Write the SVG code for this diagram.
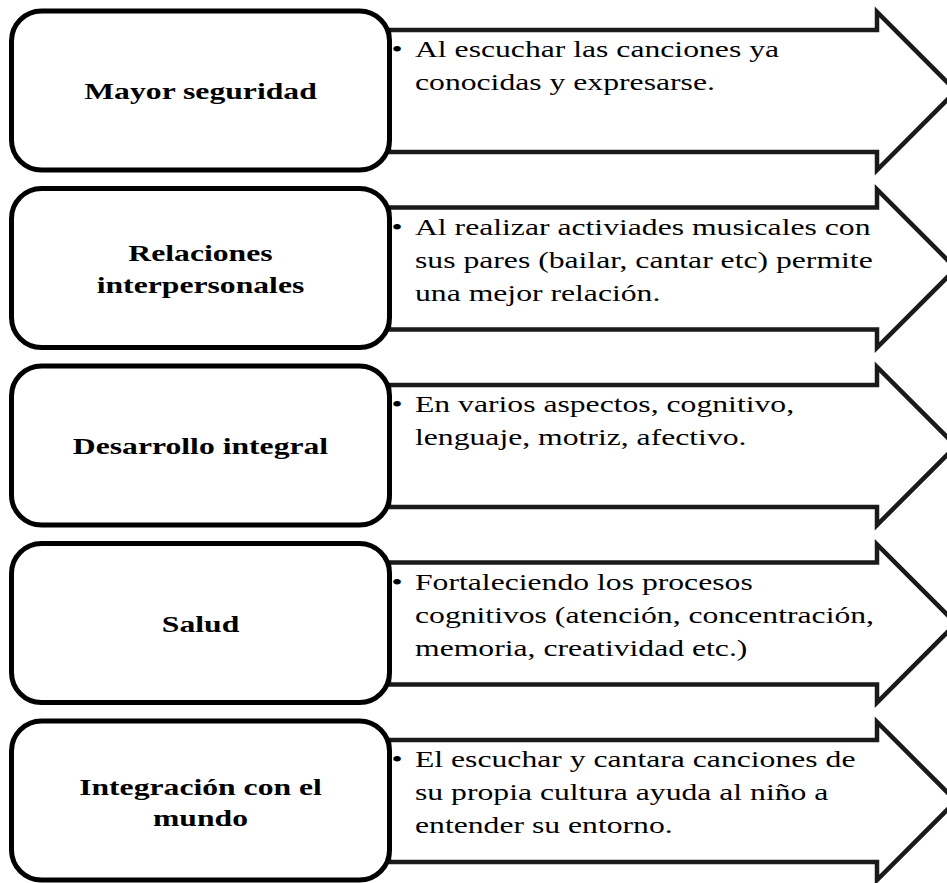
<svg xmlns="http://www.w3.org/2000/svg" width="947" height="883" viewBox="0 0 947 883">
<defs>
<style>
.arrow{fill:#fff;stroke:#1a1a1a;stroke-width:4.5;stroke-linejoin:miter;stroke-miterlimit:10}
.box{fill:#fff;stroke:#000;stroke-width:5}
.lbl{font-family:"Liberation Serif","Times New Roman",serif;font-size:24px;font-weight:bold;fill:#000;text-anchor:middle}
.txt{font-family:"Liberation Serif","Times New Roman",serif;font-size:24px;fill:#000}
.bul{font-family:"Liberation Serif","Times New Roman",serif;font-size:24px;fill:#000;text-anchor:middle}
</style>
<polygon id="arr" points="389,30 877,30 877,12 956,91 877,170 877,152 389,152"/>
</defs>
<g id="connectors">
<use href="#arr" class="arrow" transform="translate(0,0)"/>
<use href="#arr" class="arrow" transform="translate(0,177.5)"/>
<use href="#arr" class="arrow" transform="translate(0,355)"/>
<use href="#arr" class="arrow" transform="translate(0,532.5)"/>
<use href="#arr" class="arrow" transform="translate(0,710)"/>
</g>
<g id="node1">
<rect class="box" x="11.5" y="11" width="378" height="159" rx="30"/>
<text class="lbl" transform="translate(200.5 0) scale(1.32 1)" x="0" y="99.5">Mayor seguridad</text>
<text class="bul" transform="translate(397 0) scale(1.32 1)" x="0" y="57.5">•</text>
<text class="txt" transform="translate(415 0) scale(1.32 1)" y="57.5"><tspan x="0">Al escuchar las canciones ya</tspan><tspan x="0" dy="33">conocidas y expresarse.</tspan></text>
</g>
<g id="node2">
<rect class="box" x="11.5" y="188.5" width="378" height="159" rx="30"/>
<text class="lbl" transform="translate(200.5 0) scale(1.32 1)" y="261.5"><tspan x="0">Relaciones</tspan><tspan x="0" dy="31.5">interpersonales</tspan></text>
<text class="bul" transform="translate(397 0) scale(1.32 1)" x="0" y="235">•</text>
<text class="txt" transform="translate(415 0) scale(1.32 1)" y="235"><tspan x="0">Al realizar activiades musicales con</tspan><tspan x="0" dy="33">sus pares (bailar, cantar etc) permite</tspan><tspan x="0" dy="33">una mejor relación.</tspan></text>
</g>
<g id="node3">
<rect class="box" x="11.5" y="366" width="378" height="159" rx="30"/>
<text class="lbl" transform="translate(200.5 0) scale(1.32 1)" x="0" y="454.5">Desarrollo integral</text>
<text class="bul" transform="translate(397 0) scale(1.32 1)" x="0" y="412.5">•</text>
<text class="txt" transform="translate(415 0) scale(1.32 1)" y="412.5"><tspan x="0">En varios aspectos, cognitivo,</tspan><tspan x="0" dy="33">lenguaje, motriz, afectivo.</tspan></text>
</g>
<g id="node4">
<rect class="box" x="11.5" y="543.5" width="378" height="159" rx="30"/>
<text class="lbl" transform="translate(200.5 0) scale(1.32 1)" x="0" y="632.5">Salud</text>
<text class="bul" transform="translate(397 0) scale(1.32 1)" x="0" y="590">•</text>
<text class="txt" transform="translate(415 0) scale(1.32 1)" y="590"><tspan x="0">Fortaleciendo los procesos</tspan><tspan x="0" dy="33">cognitivos (atención, concentración,</tspan><tspan x="0" dy="33">memoria, creatividad etc.)</tspan></text>
</g>
<g id="node5">
<rect class="box" x="11.5" y="721" width="378" height="159" rx="30"/>
<text class="lbl" transform="translate(200.5 0) scale(1.32 1)" y="795"><tspan x="0">Integración con el</tspan><tspan x="0" dy="31.5">mundo</tspan></text>
<text class="bul" transform="translate(397 0) scale(1.32 1)" x="0" y="767.5">•</text>
<text class="txt" transform="translate(415 0) scale(1.32 1)" y="767.5"><tspan x="0">El escuchar y cantara canciones de</tspan><tspan x="0" dy="33">su propia cultura ayuda al niño a</tspan><tspan x="0" dy="33">entender su entorno.</tspan></text>
</g>
</svg>
